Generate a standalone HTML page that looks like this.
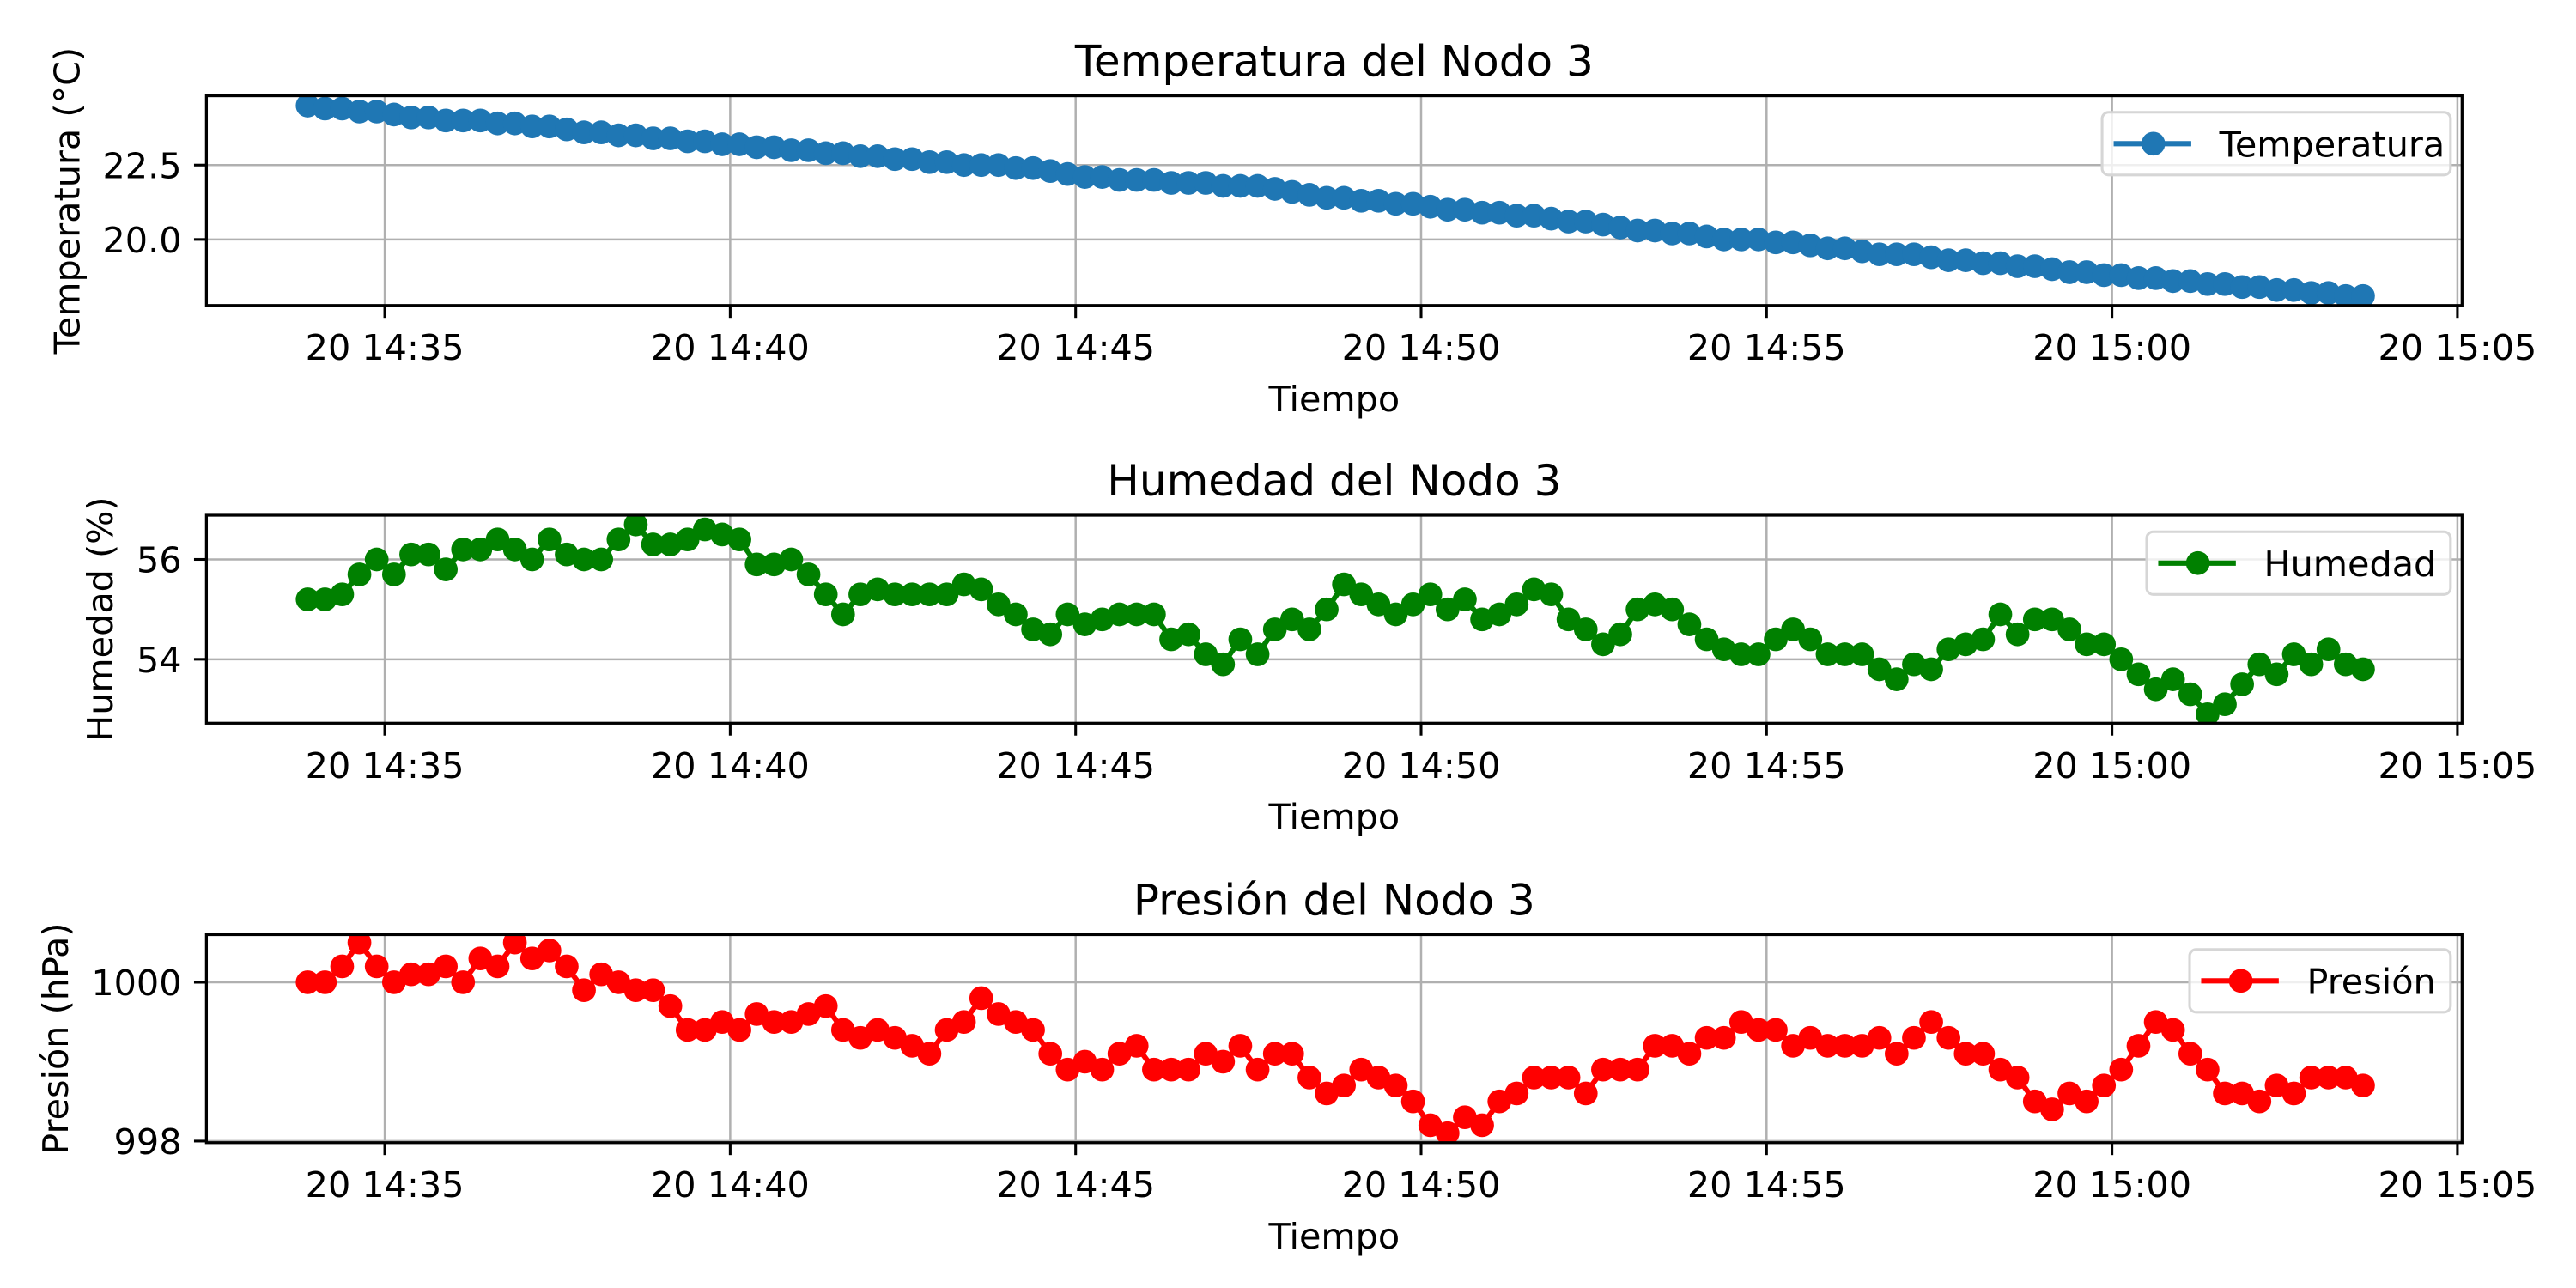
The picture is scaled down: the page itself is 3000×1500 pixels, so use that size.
<!DOCTYPE html>
<html><head><meta charset="utf-8">
<style>
html,body{margin:0;padding:0;background:#fff;}
svg{display:block;}
text{font-family:"DejaVu Sans","Liberation Sans",sans-serif;fill:#000;}
</style></head>
<body>
<svg id="chart" width="3000" height="1500" viewBox="0 0 1560 780" preserveAspectRatio="none" xmlns="http://www.w3.org/2000/svg"></svg>
<script>
// time: 120 samples every 15 s, starting at 14:33:53
const startSeconds = 14*3600 + 33*60 + 53;
const stepSeconds = 15;
const xTickLabels = ["20 14:35","20 14:40","20 14:45","20 14:50","20 14:55","20 15:00","20 15:05"];
const xTickSeconds = [14*3600+35*60,14*3600+40*60,14*3600+45*60,14*3600+50*60,14*3600+55*60,15*3600,15*3600+5*60];

const temperatura = [24.5,24.4,24.4,24.3,24.3,24.2,24.1,24.1,24.0,24.0,
24.0,23.9,23.9,23.8,23.8,23.7,23.6,23.6,23.5,23.5,
23.4,23.4,23.3,23.3,23.2,23.2,23.1,23.1,23.0,23.0,
22.9,22.9,22.8,22.8,22.7,22.7,22.6,22.6,22.5,22.5,
22.5,22.4,22.4,22.3,22.2,22.1,22.1,22.0,22.0,22.0,
21.9,21.9,21.9,21.8,21.8,21.8,21.7,21.6,21.5,21.4,
21.4,21.3,21.3,21.2,21.2,21.1,21.0,21.0,20.9,20.9,
20.8,20.8,20.7,20.6,20.6,20.5,20.4,20.3,20.3,20.2,
20.2,20.1,20.0,20.0,20.0,19.9,19.9,19.8,19.7,19.7,
19.6,19.5,19.5,19.5,19.4,19.3,19.3,19.2,19.2,19.1,
19.1,19.0,18.9,18.9,18.8,18.8,18.7,18.7,18.6,18.6,
18.5,18.5,18.4,18.4,18.3,18.3,18.2,18.2,18.1,18.1];

const humedad = [55.2,55.2,55.3,55.7,56.0,55.7,56.1,56.1,55.8,56.2,
56.2,56.4,56.2,56.0,56.4,56.1,56.0,56.0,56.4,56.7,
56.3,56.3,56.4,56.6,56.5,56.4,55.9,55.9,56.0,55.7,
55.3,54.9,55.3,55.4,55.3,55.3,55.3,55.3,55.5,55.4,
55.1,54.9,54.6,54.5,54.9,54.7,54.8,54.9,54.9,54.9,
54.4,54.5,54.1,53.9,54.4,54.1,54.6,54.8,54.6,55.0,
55.5,55.3,55.1,54.9,55.1,55.3,55.0,55.2,54.8,54.9,
55.1,55.4,55.3,54.8,54.6,54.3,54.5,55.0,55.1,55.0,
54.7,54.4,54.2,54.1,54.1,54.4,54.6,54.4,54.1,54.1,
54.1,53.8,53.6,53.9,53.8,54.2,54.3,54.4,54.9,54.5,
54.8,54.8,54.6,54.3,54.3,54.0,53.7,53.4,53.6,53.3,
52.9,53.1,53.5,53.9,53.7,54.1,53.9,54.2,53.9,53.8];

const presion = [1000.0,1000.0,1000.2,1000.5,1000.2,1000.0,1000.1,1000.1,1000.2,1000.0,
1000.3,1000.2,1000.5,1000.3,1000.4,1000.2,999.9,1000.1,1000.0,999.9,
999.9,999.7,999.4,999.4,999.5,999.4,999.6,999.5,999.5,999.6,
999.7,999.4,999.3,999.4,999.3,999.2,999.1,999.4,999.5,999.8,
999.6,999.5,999.4,999.1,998.9,999.0,998.9,999.1,999.2,998.9,
998.9,998.9,999.1,999.0,999.2,998.9,999.1,999.1,998.8,998.6,
998.7,998.9,998.8,998.7,998.5,998.2,998.1,998.3,998.2,998.5,
998.6,998.8,998.8,998.8,998.6,998.9,998.9,998.9,999.2,999.2,
999.1,999.3,999.3,999.5,999.4,999.4,999.2,999.3,999.2,999.2,
999.2,999.3,999.1,999.3,999.5,999.3,999.1,999.1,998.9,998.8,
998.5,998.4,998.6,998.5,998.7,998.9,999.2,999.5,999.4,999.1,
998.9,998.6,998.6,998.5,998.7,998.6,998.8,998.8,998.8,998.7];

const tempTicks = [20.0,22.5];
const tempTickLabels = ["20.0","22.5"];
const humTicks = [54,56];
const humTickLabels = ["54","56"];
const presTicks = [998,1000];
const presTickLabels = ["998","1000"];

const NS = "http://www.w3.org/2000/svg";
const svg = document.getElementById('chart');
const AX_L = 125, AX_R = 1491;
const FS = 21.5, TFS = 26;
function xScale(sec){ return 233 + (sec - xTickSeconds[0]) * 209.2/300; }

function el(tag, attrs, parent){
  const e = document.createElementNS(NS, tag);
  for (const k in attrs) e.setAttribute(k, attrs[k]);
  (parent||svg).appendChild(e);
  return e;
}

function panel(cfg){
  const g = el('g', {});
  
  
  const top = cfg.top, bot = cfg.bot;
  function yScale(v){ return bot - (v - cfg.ymin) * (bot - top) / (cfg.ymax - cfg.ymin); }
  xTickSeconds.forEach((s,i)=>{
    const x = xScale(s);
    if (x <= AX_R) {
      const gl = el('line',{x1:x,x2:x,y1:top,y2:bot,stroke:'#b0b0b0','stroke-width':1.3},g);
      
      
    }
    const tk = el('line',{x1:x,x2:x,y1:bot,y2:bot+7.5,stroke:'#000','stroke-width':1.6},g);
    
    
    const t = el('text',{x:x,y:bot+33,'text-anchor':'middle','font-size':FS},g);
    t.textContent = xTickLabels[i];
    
    
  });
  cfg.ticks.forEach((v,i)=>{
    const y = yScale(v);
    const gl = el('line',{x1:AX_L,x2:AX_R,y1:y,y2:y,stroke:'#b0b0b0','stroke-width':1.3},g);
    
    
    const tk = el('line',{x1:AX_L-7.5,x2:AX_L,y1:y,y2:y,stroke:'#000','stroke-width':1.6},g);
    
    
    const t = el('text',{x:AX_L-15,y:y+7.8,'text-anchor':'end','font-size':FS},g);
    t.textContent = cfg.tickLabels[i];
    
    
  });
  const pts = cfg.data.map((v,i)=>[xScale(startSeconds + i*stepSeconds), yScale(v)]);
  const clipId = 'clip-' + cfg.name;
  const cp = el('clipPath',{id:clipId},g);
  el('rect',{x:AX_L,y:top,width:AX_R-AX_L,height:bot-top},cp);
  const sg = el('g',{'clip-path':'url(#'+clipId+')'},g);
  
  
  const line = el('polyline',{points:pts.map(p=>p[0].toFixed(2)+','+p[1].toFixed(2)).join(' '),fill:'none',stroke:cfg.color,'stroke-width':3.2,'stroke-linejoin':'round'},sg);
  
  
  pts.forEach(p=>{
    const c = el('circle',{cx:p[0],cy:p[1],r:7.2,fill:cfg.color},sg);
    
    
  });
  const fr = el('rect',{x:AX_L,y:top,width:AX_R-AX_L,height:bot-top,fill:'none',stroke:'#000','stroke-width':1.7},g);
  
  
  const tt = el('text',{x:(AX_L+AX_R)/2,y:top-12,'text-anchor':'middle','font-size':TFS},g);
  tt.textContent = cfg.title;
  
  
  const xl = el('text',{x:(AX_L+AX_R)/2,y:bot+64,'text-anchor':'middle','font-size':FS},g);
  xl.textContent = 'Tiempo';
  
  
  const ycx = cfg.ylabelX, ycy = (top+bot)/2;
  const yl = el('text',{x:ycx,y:ycy,'text-anchor':'middle','font-size':FS,transform:'rotate(-90 '+ycx+' '+ycy+')'},g);
  yl.textContent = cfg.ylabel;
  
  
  const lg = el('g',{},g);
  
  
  const lx = cfg.legendX, ly = cfg.legendY, lw = 1484 - lx, lh = 38;
  el('rect',{x:lx,y:ly,width:lw,height:lh,rx:4,fill:'#fff','fill-opacity':0.8,stroke:'#d6d6d6','stroke-width':1.6},lg);
  el('line',{x1:lx+7,x2:lx+54,y1:ly+lh/2,y2:ly+lh/2,stroke:cfg.color,'stroke-width':3.2},lg);
  el('circle',{cx:lx+31,cy:ly+lh/2,r:7.2,fill:cfg.color},lg);
  const lt = el('text',{x:lx+71,y:ly+lh/2+7.8,'font-size':FS},lg);
  lt.textContent = cfg.legendLabel;
  
  
}

panel({name:'temperature',top:58,bot:185,ymin:17.78,ymax:24.83,ticks:tempTicks,tickLabels:tempTickLabels,data:temperatura,color:'#1f77b4',title:'Temperatura del Nodo 3',ylabel:'Temperatura (°C)',ylabelX:48,legendX:1273,legendY:68,legendLabel:'Temperatura'});
panel({name:'humidity',top:312,bot:438,ymin:52.72,ymax:56.885,ticks:humTicks,tickLabels:humTickLabels,data:humedad,color:'#008000',title:'Humedad del Nodo 3',ylabel:'Humedad (%)',ylabelX:68,legendX:1300,legendY:322,legendLabel:'Humedad'});
panel({name:'pressure',top:566,bot:692,ymin:997.98,ymax:1000.6,ticks:presTicks,tickLabels:presTickLabels,data:presion,color:'#ff0000',title:'Presión del Nodo 3',ylabel:'Presión (hPa)',ylabelX:41,legendX:1326,legendY:575,legendLabel:'Presión'});
</script>
</body></html>
